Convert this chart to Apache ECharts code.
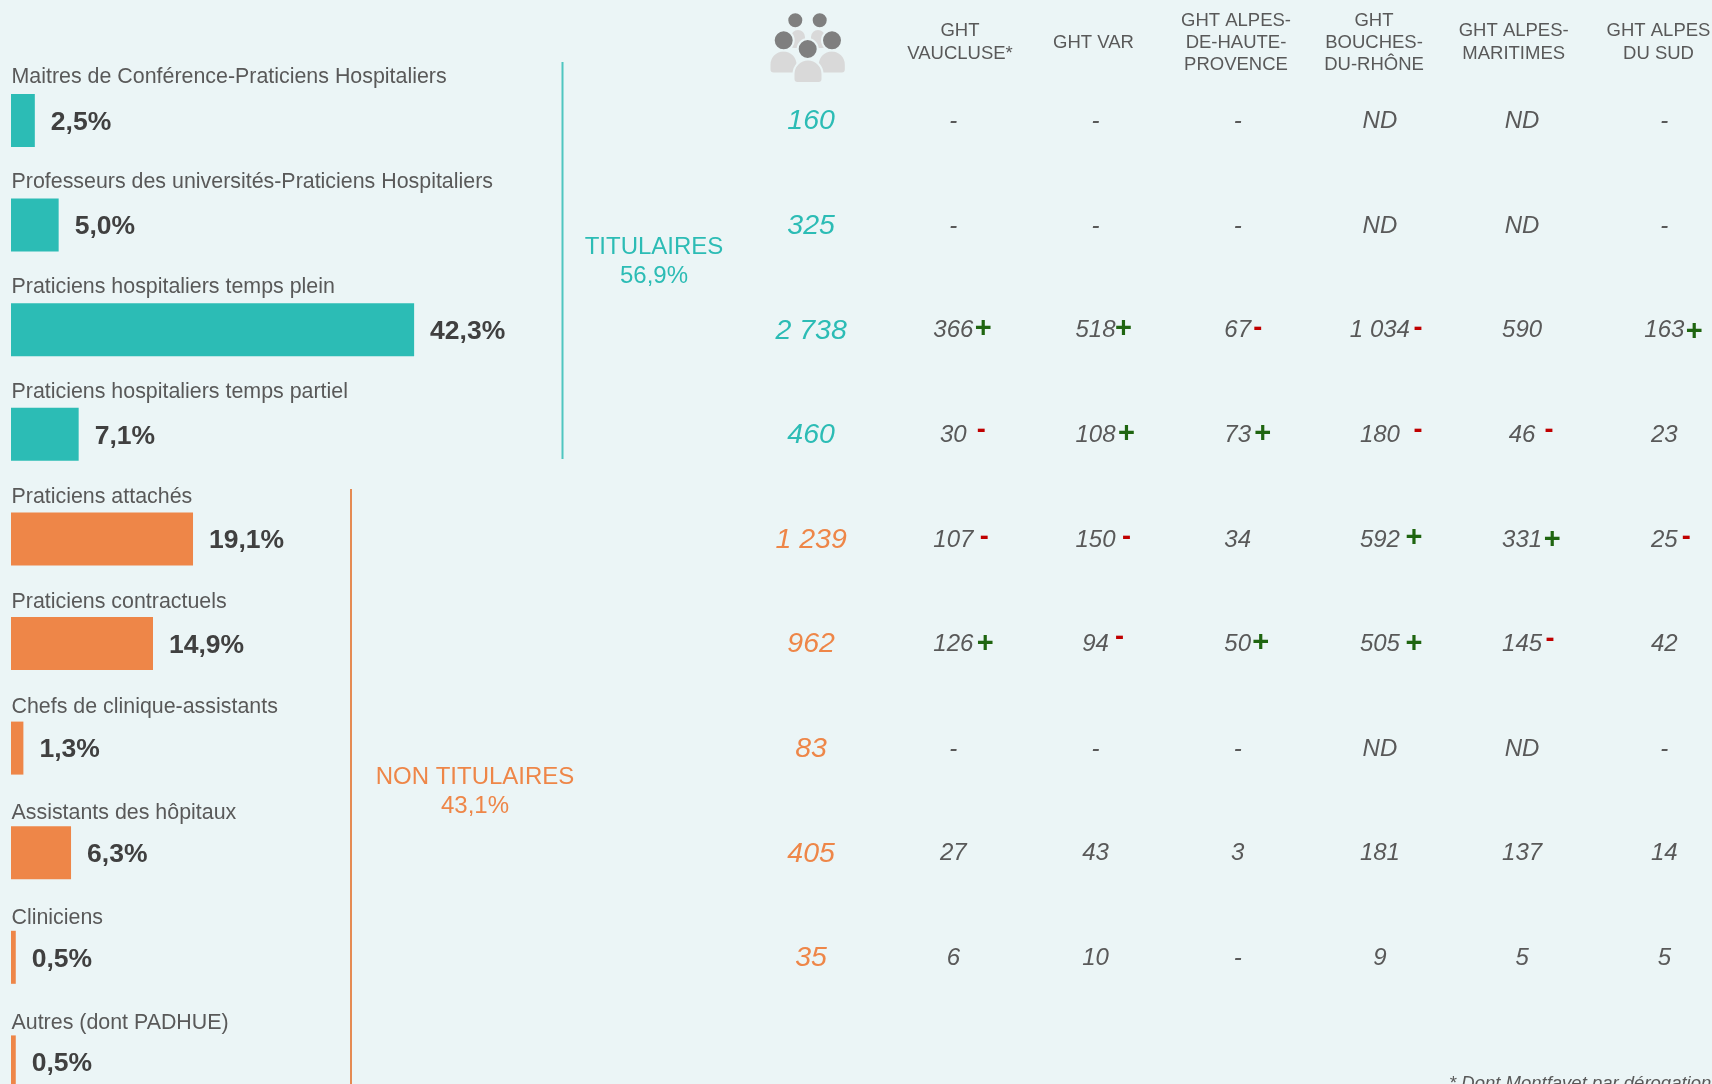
<!DOCTYPE html>
<html><head><meta charset="utf-8">
<style>html,body{margin:0;padding:0;background:#EBF5F6;overflow:hidden}#c{width:1712px;height:1084px}</style>
<script src="https://cdn.jsdelivr.net/npm/echarts@6/dist/echarts.min.js"></script>
</head><body><div id="c"></div>
<script>
const categories = ['Maitres de Conférence-Praticiens Hospitaliers','Professeurs des universités-Praticiens Hospitaliers','Praticiens hospitaliers temps plein','Praticiens hospitaliers temps partiel','Praticiens attachés','Praticiens contractuels','Chefs de clinique-assistants','Assistants des hôpitaux','Cliniciens','Autres (dont PADHUE)'];
const shares = [2.5,5.0,42.3,7.1,19.1,14.9,1.3,6.3,0.5,0.5];
const titulaireCount = 4;
const totals = ['160','325','2 738','460','1 239','962','83','405','35'];
const columns = ['TOTAL','GHT VAUCLUSE*','GHT VAR','GHT ALPES-DE-HAUTE-PROVENCE','GHT BOUCHES-DU-RHÔNE','GHT ALPES-MARITIMES','GHT ALPES DU SUD'];
const vaucluse = ['-','-','366','30','107','126','-','27','6'];
const varGht   = ['-','-','518','108','150','94','-','43','10'];
const ahp      = ['-','-','67','73','34','50','-','3','-'];
const bdr      = ['ND','ND','1 034','180','592','505','ND','181','9'];
const am       = ['ND','ND','590','46','331','145','ND','137','5'];
const ads      = ['-','-','163','23','25','42','-','14','5'];
const signsVaucluse = ['','','+','-','-','+','','',''];
const signsVar      = ['','','+','+','-','-','','',''];
const signsAhp      = ['','','-','+','','+','','',''];
const signsBdr      = ['','','-','-','+','+','','',''];
const signsAm       = ['','','','-','+','-','','',''];
const signsAds      = ['','','+','','-','','','',''];
const groupNames = ['TITULAIRES','NON TITULAIRES'];
const groupShares = ['56,9%','43,1%'];
const footnote = '* Dont Montfavet par dérogation';

// layout only: hand-placed sign nudges [dx,dy] from the cell centre, by "row,col"
const signNudge = {'2,1':[30,-2],'2,2':[28,-2],'2,3':[20,-2],'2,4':[38,-2],'2,6':[30,1.5],
 '3,1':[28,-4.5],'3,2':[31,-1],'3,3':[25,-1],'3,4':[38,-4.5],'3,5':[27,-4.5],
 '4,1':[31,-2.5],'4,2':[31,-2.5],'4,4':[34,-2],'4,5':[30,0],'4,6':[22,-2.5],
 '5,1':[32,-1],'5,2':[24,-7],'5,3':[23,-2],'5,4':[34,-1],'5,5':[28,-5]};
// layout only: how far each row title sits above its bar's centre
const titleLift = [-43.3,-43.2,-42.8,-42.4,-41.7,-41.6,-40.9,-39.5,-39.4,-39];

const FONT='Liberation Sans', TEAL='#2CBCB5', ORANGE='#EE8648', GREY='#595959', BG='#EBF5F6';
const tableCols=[vaucluse,varGht,ahp,bdr,am,ads], signCols=[signsVaucluse,signsVar,signsAhp,signsBdr,signsAm,signsAds];
const colorOf=i=>i<titulaireCount?TEAL:ORANGE;

const cells=[], signs=[];
totals.forEach((t,r)=>cells.push({value:[0,r],label:{formatter:t,color:colorOf(r),fontSize:28.5,offset:[0,1]}}));
tableCols.forEach((col,c)=>col.forEach((v,r)=>{
  cells.push({value:[c+1,r],label:{formatter:v,color:GREY,fontSize:24,offset:[0,1]}});
  const s=signCols[c][r];
  if(s){const n=signNudge[r+','+(c+1)]||[30,-2];
    signs.push({value:[c+1,r],label:{formatter:s,color:s==='+'?'#1F6510':'#C00000',fontSize:s==='+'?29:27,offset:[n[0],n[1]+1]}});}
}));

const blank={type:'scatter',symbolSize:1,itemStyle:{color:'transparent',opacity:1},silent:true,clip:false,animation:false};
const body=(x,y,w,h)=>({type:'rect',shape:{x,y,width:w,height:h,r:[Math.min(w/2,h*0.7),Math.min(w/2,h*0.7),4,4]},style:{fill:'#D9D9D9',stroke:BG,lineWidth:2},silent:true});
const head=(cx,cy,r)=>({type:'circle',shape:{cx,cy,r},style:{fill:'#7F7F7F',stroke:BG,lineWidth:2},silent:true});
const headerTexts=[['GHT\nVAUCLUSE*',960,42.5],['GHT VAR',1093.5,42.5],['GHT ALPES-\nDE-HAUTE-\nPROVENCE',1236,43],['GHT\nBOUCHES-\nDU-RHÔNE',1374,43],['GHT ALPES-\nMARITIMES',1513.7,42.5],['GHT ALPES\nDU SUD',1658.5,42.5]];
const graphic=[
  body(790,29,16,20),body(810,29,16,20),
  head(795.3,20.3,8),head(819.7,20.3,8),
  body(769.5,50.5,28,23),body(817.8,50.5,28,23),
  head(783.7,40.3,10),head(832,40.3,10),
  body(793.5,59.5,29,23.5),
  head(807.7,49,10),
  ...headerTexts.map(h=>({type:'text',x:h[1],y:h[2],silent:true,style:{text:h[0],fill:GREY,font:'18.5px "'+FONT+'"',lineHeight:22.2,align:'center',verticalAlign:'middle'}})),
  {type:'line',shape:{x1:562.5,y1:62,x2:562.5,y2:459},style:{stroke:'#4FC6C0',lineWidth:2},silent:true},
  {type:'line',shape:{x1:351,y1:489,x2:351,y2:1084},style:{stroke:'#E58A52',lineWidth:2},silent:true},
  {type:'text',x:654,y:247,silent:true,style:{text:groupNames[0],fill:TEAL,font:'24px "'+FONT+'"',align:'center',verticalAlign:'middle'}},
  {type:'text',x:654,y:276,silent:true,style:{text:groupShares[0],fill:TEAL,font:'24px "'+FONT+'"',align:'center',verticalAlign:'middle'}},
  {type:'text',x:475,y:777,silent:true,style:{text:groupNames[1],fill:ORANGE,font:'24px "'+FONT+'"',align:'center',verticalAlign:'middle'}},
  {type:'text',x:475,y:806,silent:true,style:{text:groupShares[1],fill:ORANGE,font:'24px "'+FONT+'"',align:'center',verticalAlign:'middle'}},
  {type:'text',x:1449,y:1084,silent:true,style:{text:footnote,fill:GREY,font:'italic 18.5px "'+FONT+'"',align:'left',verticalAlign:'middle'}}
];

const chart=echarts.init(document.getElementById('c'),null,{renderer:'canvas'});
chart.setOption({
  backgroundColor:BG,animation:false,
  grid:[{left:11,top:68.2,width:953,height:1046,outerBoundsMode:'none'},{left:740,top:68.2,width:995.4,height:1046,outerBoundsMode:'none'}],
  xAxis:[{type:'value',gridIndex:0,min:0,max:100,show:false},{type:'category',gridIndex:1,data:columns,show:false}],
  yAxis:[{type:'category',gridIndex:0,data:categories,inverse:true,show:false},{type:'category',gridIndex:1,data:categories,inverse:true,show:false}],
  series:[
    {type:'bar',xAxisIndex:0,yAxisIndex:0,barWidth:53,silent:true,clip:false,
      data:shares.map((v,i)=>({value:v,itemStyle:{color:colorOf(i)}})),
      label:{show:true,position:'right',distance:16,offset:[0,2],fontFamily:FONT,fontWeight:'bold',fontSize:26.5,color:'#404040',
        formatter:p=>p.value.toFixed(1).replace('.',',')+'%'}},
    {...blank,xAxisIndex:0,yAxisIndex:0,
      data:categories.map((c,i)=>({value:[0,i],label:{formatter:c,offset:[0,titleLift[i]]}})),
      label:{show:true,position:'right',distance:0,fontFamily:FONT,fontSize:21.4,color:GREY}},
    {...blank,xAxisIndex:1,yAxisIndex:1,data:cells,
      label:{show:true,position:'inside',fontFamily:FONT,fontStyle:'italic'}},
    {...blank,xAxisIndex:1,yAxisIndex:1,data:signs,
      label:{show:true,position:'inside',fontFamily:FONT,fontWeight:'bold'}}
  ],
  graphic
});
</script></body></html>
